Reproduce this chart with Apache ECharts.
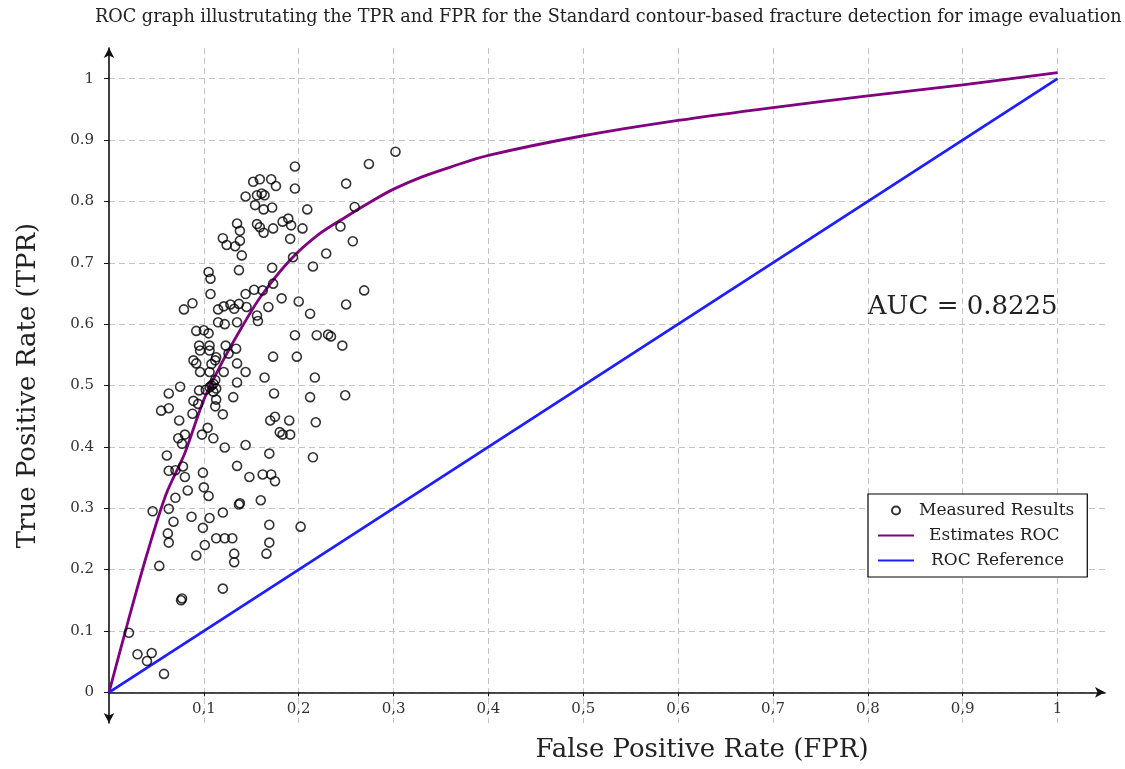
<!DOCTYPE html>
<html>
<head>
<meta charset="utf-8">
<title>ROC graph</title>
<script src="https://cdn.jsdelivr.net/npm/echarts@6/dist/echarts.min.js"></script>
<style>
  html, body { margin: 0; padding: 0; background: #fff; }
  #chart { width: 1125px; height: 769px; }
</style>
</head>
<body>
<div id="chart"></div>
<script>
// measured (FPR, TPR) pairs
const measured = [
  [0.196, 0.857],
  [0.152, 0.832], [0.159, 0.836], [0.171, 0.836], [0.176, 0.825],
  [0.196, 0.821], [0.144, 0.808],
  [0.156, 0.810], [0.161, 0.813], [0.164, 0.810],
  [0.154, 0.794], [0.163, 0.787], [0.172, 0.790], [0.209, 0.787],
  [0.135, 0.764], [0.138, 0.752],
  [0.156, 0.763], [0.159, 0.758], [0.163, 0.749], [0.173, 0.756],
  [0.183, 0.767], [0.189, 0.772], [0.192, 0.761], [0.204, 0.756],
  [0.120, 0.740], [0.124, 0.729], [0.133, 0.727], [0.138, 0.736],
  [0.140, 0.712], [0.191, 0.739], [0.194, 0.709], [0.137, 0.688],
  [0.172, 0.692], [0.215, 0.694], [0.105, 0.685], [0.107, 0.674],
  [0.107, 0.649], [0.173, 0.666],
  [0.144, 0.649], [0.153, 0.656], [0.162, 0.655], [0.182, 0.642],
  [0.200, 0.637], [0.212, 0.617], [0.079, 0.624], [0.088, 0.634],
  [0.115, 0.624], [0.121, 0.629], [0.128, 0.632], [0.132, 0.625], [0.137, 0.633], [0.145, 0.628],
  [0.168, 0.628], [0.156, 0.614], [0.157, 0.605],
  [0.115, 0.603], [0.122, 0.600], [0.135, 0.603],
  [0.092, 0.589], [0.100, 0.590], [0.105, 0.585],
  [0.196, 0.582], [0.219, 0.582],
  [0.302, 0.881], [0.274, 0.861], [0.250, 0.829], [0.259, 0.791], [0.244, 0.759],
  [0.257, 0.735], [0.229, 0.715], [0.269, 0.655], [0.250, 0.632], [0.231, 0.583],
  [0.234, 0.580], [0.246, 0.565], [0.249, 0.484],
  [0.095, 0.565], [0.106, 0.565], [0.123, 0.565], [0.134, 0.560],
  [0.096, 0.557], [0.106, 0.557], [0.113, 0.546], [0.126, 0.552],
  [0.173, 0.547], [0.198, 0.547], [0.089, 0.541], [0.092, 0.536],
  [0.108, 0.535], [0.112, 0.541], [0.135, 0.536],
  [0.096, 0.522], [0.106, 0.522], [0.121, 0.522], [0.144, 0.522],
  [0.112, 0.509], [0.110, 0.503], [0.113, 0.495], [0.106, 0.497], [0.102, 0.493],
  [0.108, 0.500], [0.110, 0.490],
  [0.135, 0.505], [0.164, 0.513], [0.217, 0.513], [0.075, 0.498], [0.063, 0.487],
  [0.095, 0.492], [0.089, 0.475], [0.094, 0.470], [0.113, 0.477], [0.112, 0.466],
  [0.131, 0.481], [0.174, 0.487], [0.212, 0.481], [0.055, 0.459], [0.063, 0.463],
  [0.088, 0.454], [0.120, 0.453], [0.074, 0.443],
  [0.170, 0.443], [0.175, 0.449], [0.190, 0.443], [0.218, 0.440],
  [0.180, 0.424], [0.183, 0.420], [0.191, 0.420], [0.104, 0.431],
  [0.098, 0.420], [0.110, 0.414], [0.073, 0.414], [0.080, 0.420], [0.077, 0.405],
  [0.122, 0.399], [0.144, 0.403], [0.169, 0.389], [0.215, 0.383], [0.061, 0.386],
  [0.063, 0.361], [0.070, 0.362], [0.078, 0.368], [0.080, 0.351],
  [0.099, 0.358], [0.135, 0.369], [0.148, 0.351],
  [0.162, 0.355], [0.171, 0.355], [0.175, 0.344], [0.083, 0.329],
  [0.100, 0.334], [0.105, 0.320], [0.070, 0.317], [0.138, 0.308], [0.137, 0.306],
  [0.160, 0.313], [0.046, 0.295], [0.063, 0.299], [0.120, 0.293],
  [0.068, 0.278], [0.087, 0.286], [0.106, 0.284],
  [0.099, 0.268], [0.169, 0.273], [0.202, 0.270],
  [0.062, 0.259], [0.063, 0.244], [0.113, 0.251], [0.122, 0.251], [0.130, 0.251],
  [0.169, 0.244], [0.166, 0.226], [0.101, 0.240], [0.132, 0.226], [0.132, 0.212],
  [0.092, 0.223], [0.053, 0.206], [0.120, 0.169], [0.076, 0.150], [0.077, 0.153],
  [0.021, 0.097], [0.030, 0.062], [0.040, 0.051], [0.045, 0.064], [0.058, 0.030]
]

// estimated ROC curve
const rocFpr = [0, 0.02, 0.04, 0.06, 0.08, 0.1, 0.12, 0.14, 0.16, 0.19, 0.22, 0.25, 0.28, 0.3, 0.33, 0.36, 0.4, 0.5, 0.6, 0.7, 0.8, 0.9, 1.0]
const rocTpr = [0, 0.115, 0.225, 0.322, 0.39, 0.477, 0.54, 0.595, 0.645, 0.703, 0.745, 0.775, 0.803, 0.82, 0.84, 0.856, 0.875, 0.907, 0.932, 0.953, 0.972, 0.99, 1.01]

// reference diagonal
const refFpr = [0, 1]
const refTpr = [0, 1]

const xTicks = [0.1, 0.2, 0.3, 0.4, 0.5, 0.6, 0.7, 0.8, 0.9, 1]
const yTicks = [0, 0.1, 0.2, 0.3, 0.4, 0.5, 0.6, 0.7, 0.8, 0.9, 1]
const aucText = 'AUC = 0.8225'
const aucPos = [0.9, 0.627]

const serif = '"DejaVu Serif", "Liberation Serif", serif'
const gridLine = { show: true, lineStyle: { color: '#c4c4c4', type: [6, 4], width: 1 } }

// y range is [-0.05, 1.05], so the x axis line sits this far above the grid bottom
const gridTop = 48
const gridBottom = 46
const gridH = 769 - gridTop - gridBottom
const yMin = -0.05
const yMax = 1.05
const xAxisLift = (0 - yMin) / (yMax - yMin) * gridH

const chart = echarts.init(document.getElementById('chart'))
chart.setOption({
  animation: false,
  backgroundColor: '#fff',
  title: {
    text: 'ROC graph illustrutating the TPR and FPR for the Standard contour-based fracture detection for image evaluation',
    left: 95,
    top: 8,
    padding: 0,
    textStyle: { fontFamily: serif, fontSize: 17.65, fontWeight: 'normal', color: '#222' }
  },
  grid: { left: 109, right: 20, top: gridTop, bottom: gridBottom, outerBoundsMode: 'none' },
  legend: {
    orient: 'vertical',
    left: 868,
    top: 494,
    backgroundColor: '#fff',
    borderColor: '#000',
    borderWidth: 1.2,
    padding: [8, 13, 8, 9],
    itemWidth: 36,
    itemHeight: 8,
    itemGap: 8,
    textStyle: { fontFamily: serif, fontSize: 17, color: '#222' },
    data: [
      { name: 'Measured Results' },
      { name: 'Estimates ROC', itemStyle: { opacity: 0 }, textStyle: { padding: [0, 0, 0, 10] } },
      { name: 'ROC Reference', itemStyle: { opacity: 0 }, textStyle: { padding: [0, 0, 0, 12] } }
    ]
  },
  xAxis: {
    type: 'value',
    min: 0,
    max: 1.05,
    offset: -xAxisLift,
    name: 'False Positive Rate (FPR)',
    nameLocation: 'middle',
    nameGap: 45,
    nameMoveOverlap: false,
    nameTextStyle: { fontFamily: serif, fontSize: 26, color: '#222', padding: [0, 0, 0, 190] },
    axisLine: { onZero: false, symbol: ['none', 'arrow'], symbolSize: [8, 10], lineStyle: { color: '#111', width: 1.6 } },
    axisTick: { show: true, length: 4, customValues: xTicks, lineStyle: { color: '#111' } },
    axisLabel: {
      customValues: xTicks,
      margin: 9,
      fontFamily: serif,
      fontSize: 15,
      color: '#333',
      formatter: v => (v === 1 ? '1' : v.toFixed(1).replace('.', ','))
    },
    splitLine: gridLine
  },
  yAxis: {
    type: 'value',
    min: yMin,
    max: yMax,
    name: 'True Positive Rate (TPR)',
    nameLocation: 'middle',
    nameGap: 68,
    nameMoveOverlap: false,
    nameTextStyle: { fontFamily: serif, fontSize: 26, color: '#222' },
    axisLine: { show: true, onZero: false, symbol: ['arrow', 'arrow'], symbolSize: [8, 10], lineStyle: { color: '#111', width: 1.6 } },
    axisTick: { show: true, length: 5, customValues: yTicks, lineStyle: { color: '#111' } },
    axisLabel: {
      customValues: yTicks,
      margin: 15,
      fontFamily: serif,
      fontSize: 15,
      color: '#333',
      formatter: v => (v === 0 ? '0' : v === 1 ? '1' : v.toFixed(1))
    },
    splitLine: gridLine
  },
  series: [
    {
      name: 'Measured Results',
      type: 'scatter',
      symbol: 'circle',
      symbolSize: 9,
      itemStyle: { color: 'rgba(0,0,0,0)', borderColor: '#000', borderWidth: 1.6 },
      z: 3,
      data: measured
    },
    {
      name: 'Estimates ROC',
      type: 'line',
      symbol: 'none',
      smooth: 0.3,
      lineStyle: { color: '#800080', width: 2.8 },
      itemStyle: { color: '#800080' },
      z: 2,
      data: rocFpr.map((x, i) => [x, rocTpr[i]])
    },
    {
      name: 'ROC Reference',
      type: 'line',
      symbol: 'none',
      lineStyle: { color: '#1e1eff', width: 2.8 },
      itemStyle: { color: '#1e1eff' },
      z: 2,
      data: refFpr.map((x, i) => [x, refTpr[i]]),
      markPoint: {
        symbol: 'circle',
        symbolSize: 0,
        silent: true,
        label: { show: true, formatter: aucText, fontFamily: serif, fontSize: 26, color: '#222' },
        data: [{ coord: aucPos }]
      }
    }
  ]
})
</script>
</body>
</html>
